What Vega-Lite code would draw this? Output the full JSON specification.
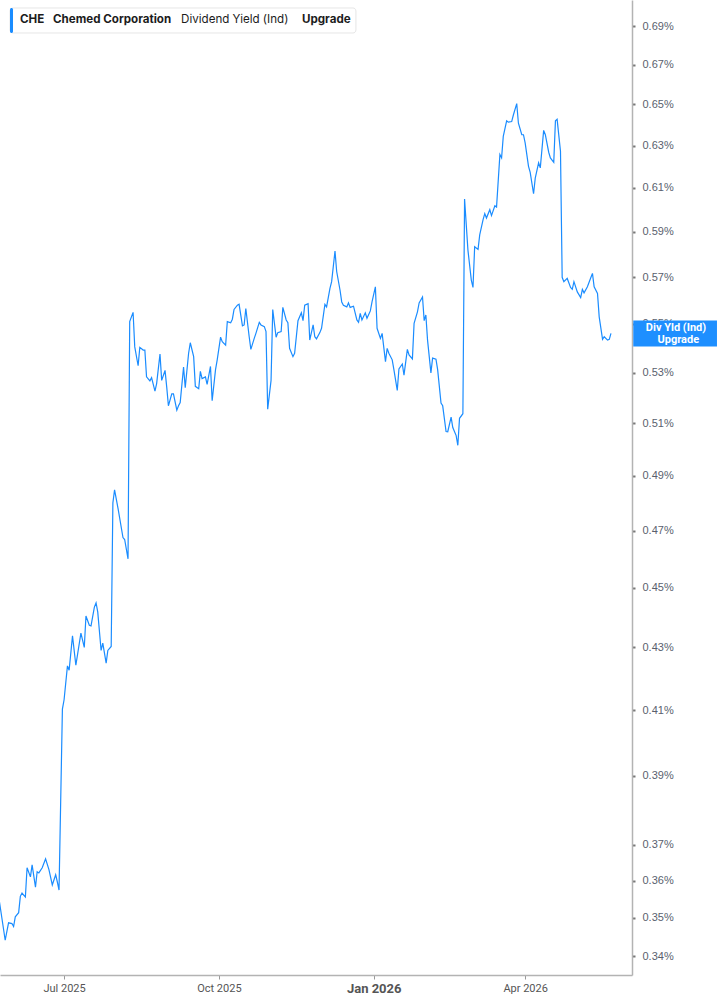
{
  "$schema": "https://vega.github.io/schema/vega-lite/v6.json",
  "width": 632,
  "height": 975,
  "padding": 0,
  "autosize": {"type": "pad"},
  "background": "white",
  "config": {"view": {"stroke": null}},
  "datasets": {
    "yld": [
      {"d":"2025-05-23","v":0.3561},{"d":"2025-05-27","v":0.3441},{"d":"2025-05-29","v":0.3487},{"d":"2025-05-31","v":0.3485},{"d":"2025-06-01","v":0.3477},{"d":"2025-06-02","v":0.3503},{"d":"2025-06-04","v":0.3514},{"d":"2025-06-05","v":0.3558},{"d":"2025-06-06","v":0.3567},{"d":"2025-06-08","v":0.3556},{"d":"2025-06-09","v":0.3636},{"d":"2025-06-11","v":0.3611},{"d":"2025-06-12","v":0.3644},{"d":"2025-06-14","v":0.3583},{"d":"2025-06-15","v":0.3625},{"d":"2025-06-16","v":0.3622},{"d":"2025-06-18","v":0.3636},{"d":"2025-06-20","v":0.3661},{"d":"2025-06-22","v":0.3631},{"d":"2025-06-24","v":0.3589},{"d":"2025-06-26","v":0.3617},{"d":"2025-06-27","v":0.3597},{"d":"2025-06-28","v":0.3575},{"d":"2025-06-30","v":0.4103},
      {"d":"2025-07-01","v":0.4132},{"d":"2025-07-03","v":0.4240},{"d":"2025-07-04","v":0.4226},{"d":"2025-07-06","v":0.4338},{"d":"2025-07-08","v":0.4242},{"d":"2025-07-11","v":0.4347},{"d":"2025-07-13","v":0.4300},{"d":"2025-07-14","v":0.4404},{"d":"2025-07-16","v":0.4373},{"d":"2025-07-17","v":0.4371},{"d":"2025-07-19","v":0.4434},{"d":"2025-07-20","v":0.4448},{"d":"2025-07-21","v":0.4418},{"d":"2025-07-23","v":0.4290},{"d":"2025-07-24","v":0.4314},{"d":"2025-07-26","v":0.4249},{"d":"2025-07-27","v":0.4290},{"d":"2025-07-29","v":0.4303},{"d":"2025-07-30","v":0.4800},{"d":"2025-07-31","v":0.4848},
      {"d":"2025-08-02","v":0.4782},{"d":"2025-08-05","v":0.4675},{"d":"2025-08-06","v":0.4668},{"d":"2025-08-08","v":0.4600},{"d":"2025-08-09","v":0.5510},{"d":"2025-08-11","v":0.5549},{"d":"2025-08-12","v":0.5405},{"d":"2025-08-14","v":0.5328},{"d":"2025-08-15","v":0.5403},{"d":"2025-08-17","v":0.5392},{"d":"2025-08-18","v":0.5392},{"d":"2025-08-19","v":0.5283},{"d":"2025-08-21","v":0.5267},{"d":"2025-08-22","v":0.5280},{"d":"2025-08-24","v":0.5226},{"d":"2025-08-25","v":0.5256},{"d":"2025-08-27","v":0.5376},{"d":"2025-08-28","v":0.5269},{"d":"2025-08-30","v":0.5309},{"d":"2025-08-31","v":0.5242},
      {"d":"2025-09-01","v":0.5168},{"d":"2025-09-03","v":0.5215},{"d":"2025-09-04","v":0.5215},{"d":"2025-09-06","v":0.5151},{"d":"2025-09-07","v":0.5168},{"d":"2025-09-08","v":0.5181},{"d":"2025-09-10","v":0.5323},{"d":"2025-09-11","v":0.5240},{"d":"2025-09-13","v":0.5379},{"d":"2025-09-14","v":0.5422},{"d":"2025-09-16","v":0.5365},{"d":"2025-09-17","v":0.5245},{"d":"2025-09-19","v":0.5236},{"d":"2025-09-20","v":0.5305},{"d":"2025-09-21","v":0.5276},{"d":"2025-09-23","v":0.5283},{"d":"2025-09-24","v":0.5253},{"d":"2025-09-26","v":0.5325},{"d":"2025-09-27","v":0.5188},{"d":"2025-09-29","v":0.5312},{"d":"2025-09-30","v":0.5352},
      {"d":"2025-10-02","v":0.5445},{"d":"2025-10-03","v":0.5426},{"d":"2025-10-05","v":0.5412},{"d":"2025-10-06","v":0.5510},{"d":"2025-10-08","v":0.5505},{"d":"2025-10-09","v":0.5520},{"d":"2025-10-10","v":0.5561},{"d":"2025-10-12","v":0.5579},{"d":"2025-10-13","v":0.5583},{"d":"2025-10-15","v":0.5492},{"d":"2025-10-16","v":0.5496},{"d":"2025-10-17","v":0.5565},{"d":"2025-10-19","v":0.5447},{"d":"2025-10-20","v":0.5395},{"d":"2025-10-22","v":0.5440},{"d":"2025-10-23","v":0.5461},{"d":"2025-10-25","v":0.5507},{"d":"2025-10-26","v":0.5496},{"d":"2025-10-28","v":0.5489},{"d":"2025-10-29","v":0.5468},{"d":"2025-10-30","v":0.5155},
      {"d":"2025-11-01","v":0.5269},{"d":"2025-11-02","v":0.5561},{"d":"2025-11-04","v":0.5445},{"d":"2025-11-05","v":0.5464},{"d":"2025-11-07","v":0.5468},{"d":"2025-11-08","v":0.5570},{"d":"2025-11-10","v":0.5517},{"d":"2025-11-11","v":0.5505},{"d":"2025-11-12","v":0.5399},{"d":"2025-11-14","v":0.5365},{"d":"2025-11-15","v":0.5379},{"d":"2025-11-17","v":0.5514},{"d":"2025-11-19","v":0.5547},{"d":"2025-11-20","v":0.5514},{"d":"2025-11-21","v":0.5579},{"d":"2025-11-23","v":0.5586},{"d":"2025-11-24","v":0.5433},{"d":"2025-11-26","v":0.5496},{"d":"2025-11-27","v":0.5447},{"d":"2025-11-28","v":0.5438},{"d":"2025-11-30","v":0.5464},
      {"d":"2025-12-01","v":0.5482},{"d":"2025-12-03","v":0.5583},{"d":"2025-12-04","v":0.5572},{"d":"2025-12-06","v":0.5651},{"d":"2025-12-07","v":0.5680},{"d":"2025-12-09","v":0.5814},{"d":"2025-12-10","v":0.5724},{"d":"2025-12-12","v":0.5643},{"d":"2025-12-13","v":0.5593},{"d":"2025-12-14","v":0.5579},{"d":"2025-12-16","v":0.5572},{"d":"2025-12-17","v":0.5589},{"d":"2025-12-18","v":0.5570},{"d":"2025-12-20","v":0.5575},{"d":"2025-12-22","v":0.5517},{"d":"2025-12-23","v":0.5507},{"d":"2025-12-24","v":0.5545},{"d":"2025-12-25","v":0.5517},{"d":"2025-12-27","v":0.5547},{"d":"2025-12-28","v":0.5524},{"d":"2025-12-30","v":0.5555},{"d":"2025-12-31","v":0.5593},
      {"d":"2026-01-02","v":0.5658},{"d":"2026-01-03","v":0.5482},{"d":"2026-01-05","v":0.5440},{"d":"2026-01-06","v":0.5461},{"d":"2026-01-08","v":0.5345},{"d":"2026-01-09","v":0.5399},{"d":"2026-01-10","v":0.5379},{"d":"2026-01-12","v":0.5352},{"d":"2026-01-13","v":0.5312},{"d":"2026-01-15","v":0.5229},{"d":"2026-01-16","v":0.5315},{"d":"2026-01-18","v":0.5335},{"d":"2026-01-19","v":0.5290},{"d":"2026-01-21","v":0.5395},{"d":"2026-01-22","v":0.5372},{"d":"2026-01-24","v":0.5356},{"d":"2026-01-25","v":0.5503},{"d":"2026-01-27","v":0.5551},{"d":"2026-01-28","v":0.5589},{"d":"2026-01-30","v":0.5614},{"d":"2026-01-31","v":0.5514},
      {"d":"2026-02-01","v":0.5538},{"d":"2026-02-02","v":0.5433},{"d":"2026-02-04","v":0.5299},{"d":"2026-02-05","v":0.5359},{"d":"2026-02-07","v":0.5355},{"d":"2026-02-08","v":0.5312},{"d":"2026-02-10","v":0.5179},{"d":"2026-02-11","v":0.5168},{"d":"2026-02-13","v":0.5068},{"d":"2026-02-14","v":0.5067},{"d":"2026-02-16","v":0.5124},{"d":"2026-02-17","v":0.5083},{"d":"2026-02-19","v":0.5052},{"d":"2026-02-20","v":0.5015},{"d":"2026-02-21","v":0.5119},{"d":"2026-02-23","v":0.5137},{"d":"2026-02-24","v":0.6049},{"d":"2026-02-26","v":0.5818},{"d":"2026-02-28","v":0.5687},
      {"d":"2026-03-01","v":0.5655},{"d":"2026-03-02","v":0.5833},{"d":"2026-03-04","v":0.5821},{"d":"2026-03-05","v":0.5886},{"d":"2026-03-07","v":0.5955},{"d":"2026-03-08","v":0.5982},{"d":"2026-03-09","v":0.5962},{"d":"2026-03-11","v":0.6000},{"d":"2026-03-12","v":0.5973},{"d":"2026-03-14","v":0.6018},{"d":"2026-03-15","v":0.6012},{"d":"2026-03-17","v":0.6257},{"d":"2026-03-18","v":0.6241},{"d":"2026-03-19","v":0.6344},{"d":"2026-03-21","v":0.6420},{"d":"2026-03-22","v":0.6413},{"d":"2026-03-24","v":0.6416},{"d":"2026-03-25","v":0.6448},{"d":"2026-03-27","v":0.6504},{"d":"2026-03-28","v":0.6408},{"d":"2026-03-30","v":0.6352},{"d":"2026-03-31","v":0.6352},
      {"d":"2026-04-01","v":0.6313},{"d":"2026-04-03","v":0.6201},{"d":"2026-04-04","v":0.6173},{"d":"2026-04-06","v":0.6073},{"d":"2026-04-07","v":0.6146},{"d":"2026-04-09","v":0.6218},{"d":"2026-04-10","v":0.6194},{"d":"2026-04-12","v":0.6373},{"d":"2026-04-13","v":0.6352},{"d":"2026-04-15","v":0.6268},{"d":"2026-04-16","v":0.6241},{"d":"2026-04-18","v":0.6220},{"d":"2026-04-19","v":0.6420},{"d":"2026-04-20","v":0.6427},{"d":"2026-04-22","v":0.6273},{"d":"2026-04-23","v":0.5699},{"d":"2026-04-24","v":0.5680},{"d":"2026-04-26","v":0.5694},{"d":"2026-04-28","v":0.5655},{"d":"2026-04-29","v":0.5647},{"d":"2026-04-30","v":0.5680},
      {"d":"2026-05-02","v":0.5636},{"d":"2026-05-04","v":0.5612},{"d":"2026-05-05","v":0.5647},{"d":"2026-05-06","v":0.5632},{"d":"2026-05-08","v":0.5658},{"d":"2026-05-10","v":0.5697},{"d":"2026-05-11","v":0.5716},{"d":"2026-05-12","v":0.5658},{"d":"2026-05-14","v":0.5629},{"d":"2026-05-15","v":0.5530},{"d":"2026-05-17","v":0.5436},{"d":"2026-05-18","v":0.5447},{"d":"2026-05-20","v":0.5433},{"d":"2026-05-21","v":0.5436},{"d":"2026-05-22","v":0.5461}
    ]
  },
  "layer": [
    {
      "data": {"name": "yld"},
      "mark": {"type": "line", "color": "#1a8cff", "strokeWidth": 1.2, "clip": true},
      "encoding": {
        "x": {
          "field": "d", "type": "temporal",
          "scale": {"type": "utc", "domain": [{"year": 2025, "month": 5, "date": 23, "hours": 22, "utc": true}, {"year": 2026, "month": 6, "date": 3, "hours": 12, "utc": true}]},
          "axis": {
            "title": null, "orient": "bottom", "grid": false,
            "values": [{"year": 2025, "month": 7, "date": 1, "utc": true}, {"year": 2025, "month": 10, "date": 1, "utc": true}, {"year": 2026, "month": 1, "date": 1, "utc": true}, {"year": 2026, "month": 4, "date": 1, "utc": true}],
            "labelExpr": "utcFormat(datum.value, '%b %Y')",
            "labelFont": "Roboto", "labelColor": "#555555",
            "labelFontSize": {"condition": {"test": "utcmonth(datum.value) == 0", "value": 13}, "value": 11},
            "labelFontWeight": {"condition": {"test": "utcmonth(datum.value) == 0", "value": "bold"}, "value": "normal"},
            "labelPadding": 3, "labelFlush": false,
            "domainColor": "#b3b3b3", "domainWidth": 1.5,
            "tickColor": "#999999", "tickSize": 4, "tickWidth": 1,
            "zindex": 0
          }
        },
        "y": {
          "field": "v", "type": "quantitative",
          "scale": {"type": "log", "domain": [0.33512, 0.70379], "nice": false, "zero": false},
          "axis": {
            "title": null, "orient": "right", "grid": false,
            "values": [0.34, 0.35, 0.36, 0.37, 0.39, 0.41, 0.43, 0.45, 0.47, 0.49, 0.51, 0.53, 0.55, 0.57, 0.59, 0.61, 0.63, 0.65, 0.67, 0.69],
            "labelExpr": "format(datum.value, '.2f') + '%'",
            "labelFont": "Liberation Sans", "labelFontSize": 11, "labelColor": "#5a5f6e",
            "labelPadding": 7, "labelFlush": false, "labelOverlap": false,
            "domainColor": "#b3b3b3", "domainWidth": 1.5,
            "tickColor": "#777777", "tickSize": 3, "tickWidth": 2,
            "zindex": 0
          }
        }
      }
    },
    {
      "data": {"values": [{"k": "box"}]},
      "mark": {"type": "rect", "fill": "white", "stroke": "#e6e6e6", "strokeWidth": 1, "cornerRadius": 3},
      "encoding": {
        "x": {"datum": {"year": 2025, "month": 5, "date": 29, "hours": 20, "minutes": 40, "utc": true}, "type": "temporal"},
        "x2": {"datum": {"year": 2025, "month": 12, "date": 21, "hours": 10, "minutes": 30, "utc": true}},
        "y": {"datum": 0.69953, "type": "quantitative"},
        "y2": {"datum": 0.68634}
      }
    },
    {
      "data": {"values": [{"k": "accent"}]},
      "mark": {"type": "rect", "fill": "#1a8cff", "cornerRadius": 1.5},
      "encoding": {
        "x": {"datum": {"year": 2025, "month": 5, "date": 29, "hours": 20, "minutes": 40, "utc": true}, "type": "temporal"},
        "x2": {"datum": {"year": 2025, "month": 5, "date": 31, "hours": 15, "minutes": 30, "utc": true}},
        "y": {"datum": 0.69953, "type": "quantitative"},
        "y2": {"datum": 0.68634}
      }
    },
    {
      "data": {"values": [{"t": "CHE"}]},
      "mark": {"type": "text", "align": "left", "baseline": "middle", "font": "Inter", "fontSize": 11.6, "fontWeight": 700, "color": "#1c1c1c"},
      "encoding": {
        "x": {"datum": {"year": 2025, "month": 6, "date": 4, "hours": 19, "utc": true}, "type": "temporal"},
        "y": {"datum": 0.6929, "type": "quantitative"},
        "text": {"field": "t"}
      }
    },
    {
      "data": {"values": [{"t": "Chemed Corporation"}]},
      "mark": {"type": "text", "align": "left", "baseline": "middle", "font": "Inter", "fontSize": 11.6, "fontWeight": 700, "color": "#1c1c1c"},
      "encoding": {
        "x": {"datum": {"year": 2025, "month": 6, "date": 24, "hours": 10, "utc": true}, "type": "temporal"},
        "y": {"datum": 0.6929, "type": "quantitative"},
        "text": {"field": "t"}
      }
    },
    {
      "data": {"values": [{"t": "Dividend Yield (Ind)"}]},
      "mark": {"type": "text", "align": "left", "baseline": "middle", "font": "Inter", "fontSize": 11.6, "fontWeight": 400, "color": "#1c1c1c"},
      "encoding": {
        "x": {"datum": {"year": 2025, "month": 9, "date": 8, "hours": 12, "utc": true}, "type": "temporal"},
        "y": {"datum": 0.6929, "type": "quantitative"},
        "text": {"field": "t"}
      }
    },
    {
      "data": {"values": [{"t": "Upgrade"}]},
      "mark": {"type": "text", "align": "left", "baseline": "middle", "font": "Inter", "fontSize": 11.6, "fontWeight": 700, "color": "#1c1c1c"},
      "encoding": {
        "x": {"datum": {"year": 2025, "month": 11, "date": 19, "hours": 9, "utc": true}, "type": "temporal"},
        "y": {"datum": 0.6929, "type": "quantitative"},
        "text": {"field": "t"}
      }
    },
    {
      "data": {"values": [{"k": "tag"}]},
      "mark": {"type": "rect", "fill": "#1e8fff", "clip": false},
      "encoding": {
        "x": {"datum": {"year": 2026, "month": 6, "date": 4, "hours": 6, "utc": true}, "type": "temporal"},
        "x2": {"datum": {"year": 2026, "month": 7, "date": 24, "utc": true}},
        "y": {"datum": 0.55145, "type": "quantitative"},
        "y2": {"datum": 0.54064}
      }
    },
    {
      "data": {"values": [{"t": "Div Yld (Ind)"}]},
      "mark": {"type": "text", "align": "center", "baseline": "middle", "font": "Roboto", "fontSize": 11, "fontWeight": 700, "color": "white"},
      "encoding": {
        "x": {"datum": {"year": 2026, "month": 6, "date": 29, "hours": 15, "utc": true}, "type": "temporal"},
        "y": {"datum": 0.54819, "type": "quantitative"},
        "text": {"field": "t"}
      }
    },
    {
      "data": {"values": [{"t": "Upgrade"}]},
      "mark": {"type": "text", "align": "center", "baseline": "middle", "font": "Roboto", "fontSize": 11, "fontWeight": 700, "color": "white"},
      "encoding": {
        "x": {"datum": {"year": 2026, "month": 7, "date": 1, "utc": true}, "type": "temporal"},
        "y": {"datum": 0.54353, "type": "quantitative"},
        "text": {"field": "t"}
      }
    }
  ]
}
